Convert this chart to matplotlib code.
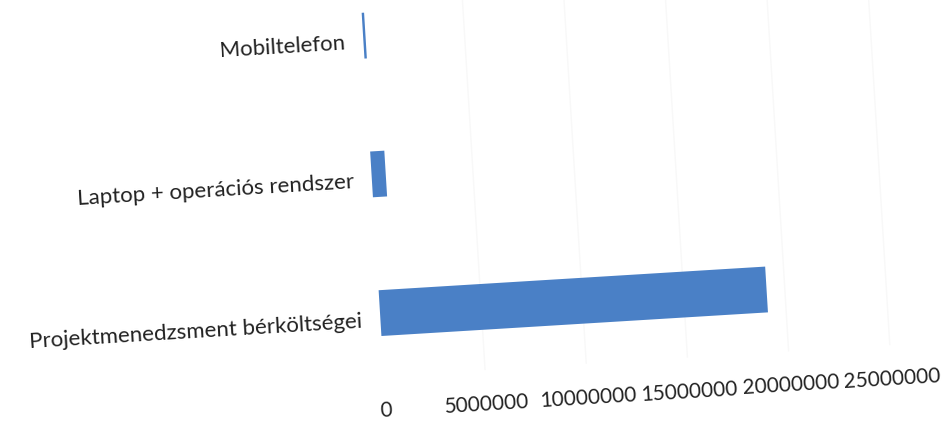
import matplotlib
matplotlib.use("Agg")
from matplotlib import pyplot as plt
from matplotlib.transforms import Affine2D

# data (bottom to top, as the chart draws it)
categories = ["Projektmenedzsment bérköltségei", "Laptop + operációs rendszer", "Mobiltelefon"]
values = [19100000, 700000, 120000]
ticks = [0, 5000000, 10000000, 15000000, 20000000, 25000000]
tick_labels = ["0", "5000000", "10000000", "15000000", "20000000", "25000000"]

BLUE = "#4a80c6"
ANGLE = 3.5  # the scan is slightly tilted

plt.rcParams["font.family"] = ["Lato", "DejaVu Sans"]

fig = plt.figure(figsize=(9.51, 4.25), dpi=100)
ax = fig.add_axes([0.3996, 0.018, 0.533, 0.981])
ax.set_xlim(0, 25000000)
ax.set_ylim(-0.75, 2.25)
ax.axis("off")

# tilt everything around the start of the bottom bar
px, py = ax.transData.transform((0, 0))
rot = ax.transData + Affine2D().rotate_deg_around(px, py, ANGLE)

for t in ticks[1:]:
    ax.plot([t, t], [-0.45, 2.3], color="#f8f8f8", lw=1, transform=rot,
            zorder=0, clip_on=False)

bars = ax.barh(range(len(categories)), values, height=0.33, color=BLUE, zorder=2)
for b in bars:
    b.set_transform(rot)
    b.set_clip_on(False)

for i, name in enumerate(categories):
    ax.text(-900000, i - 0.05, name, transform=rot, rotation=ANGLE,
            rotation_mode="anchor", ha="right", va="center", fontsize=16, color="#222222")

for t, lab in zip(ticks, tick_labels):
    ax.text(t, -0.70, lab, transform=rot, rotation=ANGLE,
            rotation_mode="anchor", ha="center", va="center", fontsize=15, color="#222222")

fig.savefig("out.png", dpi=100)
